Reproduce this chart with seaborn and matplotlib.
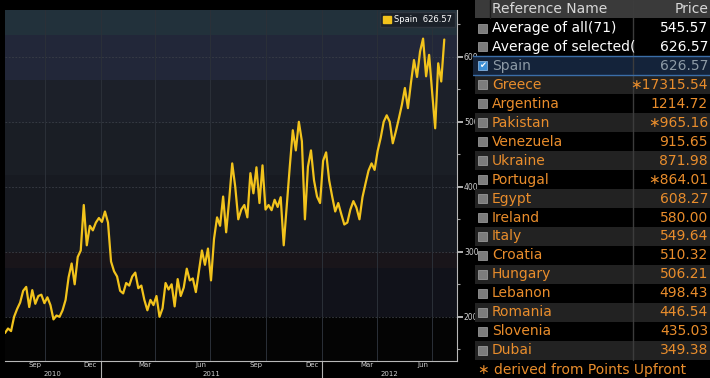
import numpy as np
import pandas as pd
import seaborn as sns
import matplotlib.pyplot as plt
import matplotlib.dates as mdates
import matplotlib.transforms as mtransforms
from matplotlib.patches import Rectangle, Patch

# Spain CDS, one reading every 5 days from late Jul 2010
spain = [
    175, 182, 178, 200, 212, 222, 240, 246, 215, 241,
    220, 232, 234, 221, 230, 218, 196, 202, 200, 210,
    226, 261, 282, 250, 292, 302, 372, 310, 340, 333,
    345, 352, 346, 362, 345, 285, 270, 262, 240, 236,
    252, 248, 262, 268, 244, 248, 226, 210, 226, 218,
    232, 200, 213, 252, 242, 250, 216, 258, 232, 245,
    274, 256, 259, 238, 270, 302, 280, 305, 256, 320,
    353, 340, 385, 330, 380, 436, 400, 350, 365, 372,
    353, 421, 390, 430, 375, 433, 365, 372, 364, 380,
    369, 384, 310, 370, 431, 487, 456, 500, 470, 350,
    431, 456, 410, 385, 375, 440, 453, 410, 385, 362,
    375, 358, 342, 345, 365, 378, 368, 350, 384, 405,
    425, 436, 426, 455, 475, 500, 510, 500, 467, 485,
    505, 526, 552, 521, 560, 595, 569, 608, 628, 570,
    603, 545, 490, 590, 562, 626.57,
]
start_date = "2010-07-27"
step = "5D"

names = [
    "Average of all(71)", "Average of selected(", "Spain", "Greece",
    "Argentina", "Pakistan", "Venezuela", "Ukraine", "Portugal", "Egypt",
    "Ireland", "Italy", "Croatia", "Hungary", "Lebanon", "Romania",
    "Slovenia", "Dubai",
]
prices = [
    545.57, 626.57, 626.57, 17315.54, 1214.72, 965.16, 915.65, 871.98,
    864.01, 608.27, 580.00, 549.64, 510.32, 506.21, 498.43, 446.54,
    435.03, 349.38,
]
upfront = ["Greece", "Pakistan", "Portugal"]

month_labels = ["Sep", "Dec", "Mar", "Jun", "Sep", "Dec", "Mar", "Jun"]
month_label_dates = ["2010-09-15", "2010-12-15", "2011-03-15", "2011-06-15",
                     "2011-09-15", "2011-12-15", "2012-03-15", "2012-06-15"]
years = ["2010", "2011", "2012"]

YELLOW = "#f2c31c"
ORANGE = "#e98d2c"

sns.set_style("dark")
plt.rcParams["font.family"] = ["Liberation Sans Narrow", "DejaVu Sans"]

df = pd.DataFrame({
    "date": pd.date_range(start_date, periods=len(spain), freq=step),
    "price": spain,
})

W, H = 710, 378
fig = plt.figure(figsize=(W / 100, H / 100), dpi=100, facecolor="black")
ax = fig.add_axes([5 / W, 1 - 361 / H, 452 / W, 351 / H])
ax.set_facecolor("black")

x0, x1 = pd.Timestamp("2010-07-27"), pd.Timestamp("2012-08-11")
ylo, yhi = 132, 672

# background bands (bloomberg style gradient)
bands = [(634, 672, "#22313b"), (564, 634, "#222739"), (498, 564, "#1c2029"),
         (418, 498, "#1a1e25"), (300, 418, "#171a21"), (275, 300, "#19151a"),
         (200, 275, "#11121a"), (ylo, 200, "#040404")]
for lo, hi, c in bands:
    ax.axhspan(lo, hi, color=c, lw=0, zorder=0)

for v in range(200, 601, 100):
    ax.axhline(v, color="#3b4048", lw=0.6, ls=(0, (2, 2)), zorder=1)
for d in pd.date_range("2010-10-01", "2012-07-01", freq="QS"):
    ax.axvline(d, color="#2b3038", lw=0.7, zorder=1)

sns.lineplot(data=df, x="date", y="price", ax=ax, color=YELLOW, lw=1.6, zorder=3)

ax.set_xlim(x0, x1)
ax.set_ylim(ylo, yhi)
ax.set_xlabel("")
ax.set_ylabel("")
ax.grid(False)
for s in ["left", "top"]:
    ax.spines[s].set_visible(False)
ax.spines["right"].set_color("#b8b8b8")
ax.spines["bottom"].set_color("#b8b8b8")
ax.spines["right"].set_linewidth(0.8)
ax.spines["bottom"].set_linewidth(0.8)

# y axis on right
ax.yaxis.tick_right()
ax.set_yticks(range(200, 601, 100))
ax.set_yticks(range(150, 651, 100), minor=True)
ax.tick_params(axis="y", which="major", colors="#d0d0d0", labelsize=5.5,
               length=4, width=1.2, pad=1, direction="out")
ax.tick_params(axis="y", which="minor", colors="#a0a0a0", length=2, width=0.8)

# x axis: month ticks, mid-month labels
ax.xaxis.set_major_locator(mdates.MonthLocator())
ax.xaxis.set_major_formatter(plt.NullFormatter())
ax.set_xticks(mdates.date2num(pd.to_datetime(month_label_dates)), minor=True)
ax.set_xticklabels(month_labels, minor=True)
ax.tick_params(axis="x", which="major", colors="#b0b0b0", length=2.5,
               width=0.8, direction="in")
ax.tick_params(axis="x", which="minor", colors="#d0d0d0", length=0,
               labelsize=5, pad=0.8)

trans = mtransforms.blended_transform_factory(ax.transData, ax.transAxes)
bounds = [x0, pd.Timestamp("2011-01-01"), pd.Timestamp("2012-01-01"), x1]
for i, yr in enumerate(years):
    mid = bounds[i] + (bounds[i + 1] - bounds[i]) / 2
    ax.text(mid, -0.038, yr, transform=trans, ha="center", va="center",
            color="#d0d0d0", fontsize=5)
for b in bounds[1:3]:
    ax.plot([b, b], [0, -0.05], transform=trans, color="#b0b0b0", lw=0.8,
            clip_on=False)

ax.legend(handles=[Patch(color=YELLOW)], labels=["Spain  626.57"],
          loc="upper right", fontsize=6, facecolor="#1b2129",
          edgecolor="#2e353e", labelcolor="white", handlelength=0.9,
          handleheight=0.9, handletextpad=0.4, borderaxespad=0.2,
          framealpha=1, fancybox=False)

# ---- right side table ----
tax = fig.add_axes([473 / W, 0, (W - 473) / W, 1])
tax.set_xlim(473, 710)
tax.set_ylim(H, 0)
tax.axis("off")

FS = 10
tax.add_patch(Rectangle((475, 0), 235, 18, color="#3a3a3a", lw=0))
tax.plot([490, 490], [0, 18], color="#1e1e1e", lw=1)
tax.plot([633, 633], [0, 360], color="#3c3c3c", lw=1)
tax.text(492, 9, "Reference Name", color="#d8d8d8", fontsize=FS,
         va="center", ha="left")
tax.text(708, 9, "Price", color="#d8d8d8", fontsize=FS, va="center",
         ha="right")

row_h = 18.95
for i, (name, price) in enumerate(zip(names, prices)):
    yc = 28 + row_h * i
    if name == "Spain":
        tax.add_patch(Rectangle((473, yc - row_h / 2), 237, row_h,
                                color="#14233a", lw=0))
        tax.plot([473, 710], [yc - row_h / 2] * 2, color="#3b6ea8", lw=1)
        tax.plot([473, 710], [yc + row_h / 2] * 2, color="#3b6ea8", lw=1)
        col = "#8d9aa6"
        tax.add_patch(Rectangle((478, yc - 4.5), 9, 9, fc="#3d8fd6",
                                ec="#9ac4ee", lw=0.5))
        tax.text(482.5, yc, "\u2714", color="white", fontsize=6,
                 ha="center", va="center", family="DejaVu Sans")
    else:
        if i >= 3 and (i - 3) % 2 == 0:
            tax.add_patch(Rectangle((475, yc - row_h / 2), 235, row_h,
                                    color="#222222", lw=0))
        col = "white" if i < 2 else ORANGE
        tax.add_patch(Rectangle((478, yc - 4.5), 9, 9, fc="#7c7c7c",
                                ec="#a8a8a8", lw=0.5))
    txt = tax.text(492, yc, name, color=col, fontsize=FS, va="center",
                   ha="left")
    txt.set_clip_box(mtransforms.Bbox.from_extents(0, 0, 632 / W * fig.bbox.width, H))
    label = f"{price:.2f}"
    if name in upfront:
        label = "\u2217" + label
    tax.text(708, yc, label, color=col, fontsize=FS, va="center",
             ha="right")

tax.text(478, 370, "\u2217 derived from Points Upfront", color=ORANGE,
         fontsize=FS, va="center", ha="left")

fig.savefig("out.png", dpi=100, facecolor="black")
